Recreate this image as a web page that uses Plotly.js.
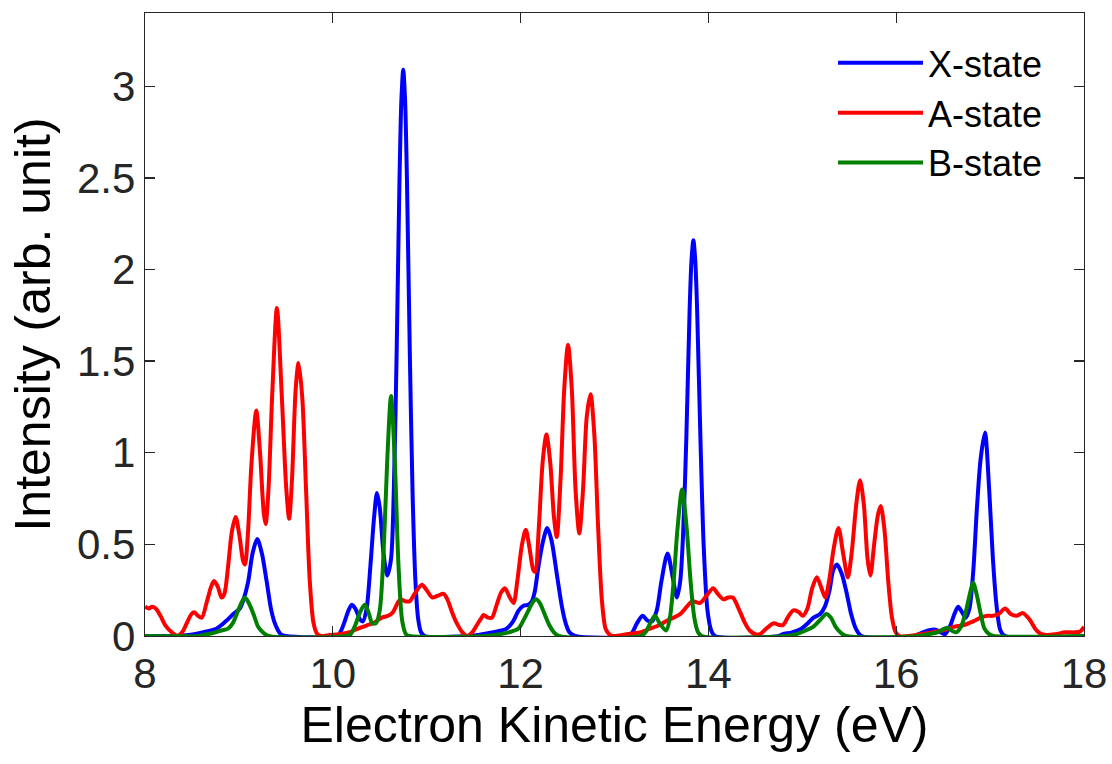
<!DOCTYPE html>
<html>
<head>
<meta charset="utf-8">
<script src="https://cdn.plot.ly/plotly-3.0.1.min.js"></script>
<style>
  html, body { margin: 0; padding: 0; background: #fff; }
  #chart { width: 1112px; height: 764px; }
</style>
</head>
<body>
<div id="chart"></div>
<script>
// Photoelectron spectra of the three ionic states vs. electron kinetic energy

// X-state
const xStateE = [8.00, 8.30, 8.46, 8.61, 8.76, 8.86, 8.94, 9.01, 9.05, 9.10, 9.145, 9.195, 9.245, 9.295, 9.345, 9.39, 9.445, 9.50,
  10.05, 10.08, 10.12, 10.16, 10.20, 10.24, 10.29, 10.32, 10.36, 10.40, 10.44, 10.47, 10.50, 10.54, 10.58, 10.62, 10.65, 10.68, 10.71, 10.73, 10.75, 10.77, 10.79, 10.82, 10.85, 10.88, 10.91, 10.94, 10.98,
  11.45, 11.55, 11.65, 11.75, 11.85, 11.92, 11.98, 12.03, 12.08, 12.12, 12.15, 12.19, 12.24, 12.285, 12.33, 12.385, 12.44, 12.48, 12.52, 12.58,
  13.15, 13.19, 13.24, 13.30, 13.35, 13.40, 13.45, 13.50, 13.565, 13.62, 13.665, 13.70, 13.73, 13.765, 13.80, 13.82, 13.84, 13.86, 13.88, 13.915, 13.95, 13.99, 14.03, 14.07,
  14.75, 14.79, 14.89, 14.99, 15.06, 15.12, 15.19, 15.24, 15.29, 15.33, 15.37, 15.42, 15.47, 15.52, 15.57, 15.63,
  16.20, 16.24, 16.34, 16.42, 16.49, 16.52, 16.57, 16.62, 16.66, 16.70, 16.74, 16.78, 16.82, 16.86, 16.90, 16.945, 16.99, 17.03, 17.07, 17.11, 17.16, 18.00];
const xStateI = [0, 0, 0.005, 0.02, 0.04, 0.08, 0.12, 0.15, 0.20, 0.30, 0.45, 0.53, 0.45, 0.30, 0.14, 0.06, 0.01, 0,
  0, 0.02, 0.07, 0.13, 0.17, 0.15, 0.09, 0.08, 0.15, 0.38, 0.65, 0.78, 0.70, 0.45, 0.33, 0.42, 0.80, 1.55, 2.48, 2.92, 3.09, 2.92, 2.48, 1.55, 0.77, 0.30, 0.09, 0.02, 0,
  0, 0.005, 0.015, 0.025, 0.04, 0.08, 0.14, 0.165, 0.17, 0.19, 0.24, 0.38, 0.52, 0.59, 0.52, 0.34, 0.16, 0.07, 0.02, 0,
  0, 0.02, 0.07, 0.11, 0.085, 0.08, 0.14, 0.30, 0.45, 0.32, 0.21, 0.30, 0.55, 1.08, 1.78, 2.05, 2.16, 2.05, 1.78, 1.08, 0.49, 0.14, 0.03, 0,
  0, 0.01, 0.02, 0.04, 0.07, 0.10, 0.12, 0.16, 0.25, 0.36, 0.39, 0.34, 0.24, 0.12, 0.04, 0,
  0, 0.01, 0.03, 0.035, 0.015, 0.01, 0.05, 0.12, 0.16, 0.13, 0.10, 0.15, 0.35, 0.70, 0.97, 1.11, 0.80, 0.42, 0.16, 0.03, 0, 0];

// A-state
const aStateE = [8.00, 8.04, 8.075, 8.115, 8.165, 8.215, 8.285, 8.345, 8.395, 8.445, 8.495, 8.525, 8.565, 8.605, 8.655, 8.705, 8.735, 8.775, 8.815, 8.845, 8.885, 8.925, 8.965, 9.005, 9.045, 9.065, 9.095, 9.135, 9.185, 9.225, 9.265, 9.285, 9.315, 9.355, 9.405, 9.455, 9.505, 9.535, 9.565, 9.605, 9.635, 9.675, 9.715, 9.755, 9.795, 9.835, 9.875,
  9.97, 10.07, 10.17, 10.27, 10.37, 10.43, 10.52, 10.59, 10.64, 10.69, 10.72, 10.77, 10.82, 10.87, 10.95, 11.00, 11.06, 11.12, 11.18, 11.22, 11.27, 11.32, 11.38, 11.43,
  11.485, 11.535, 11.585, 11.605, 11.655, 11.695, 11.745, 11.795, 11.835, 11.885, 11.925, 11.965, 12.015, 12.055, 12.095, 12.135, 12.155, 12.195, 12.235, 12.275, 12.315, 12.355, 12.385, 12.425, 12.465, 12.505, 12.545, 12.585, 12.625, 12.665, 12.705, 12.745, 12.785, 12.825, 12.865, 12.905, 12.945, 12.985,
  13.13, 13.27, 13.38, 13.48, 13.58, 13.63, 13.70, 13.77, 13.83, 13.91, 13.98, 14.05, 14.10, 14.16, 14.21, 14.26, 14.33, 14.39, 14.44, 14.50, 14.55,
  14.615, 14.695, 14.755, 14.795, 14.855, 14.905, 14.965, 15.005, 15.055, 15.105, 15.155, 15.205, 15.245, 15.285, 15.335, 15.385, 15.435, 15.485, 15.525, 15.575, 15.615, 15.655, 15.695, 15.725, 15.765, 15.805, 15.835, 15.875, 15.915, 15.955, 15.995, 16.035,
  16.14, 16.26, 16.39, 16.49, 16.61, 16.72, 16.82, 16.90, 16.97, 17.03, 17.09, 17.16, 17.22, 17.28, 17.35, 17.42, 17.48, 17.53, 17.60, 17.70, 17.80, 17.90, 17.96, 18.00];
const aStateI = [0.16, 0.15, 0.16, 0.15, 0.11, 0.06, 0.02, 0.0, 0.02, 0.07, 0.12, 0.13, 0.11, 0.10, 0.18, 0.27, 0.30, 0.27, 0.21, 0.23, 0.38, 0.57, 0.65, 0.55, 0.41, 0.39, 0.55, 0.95, 1.23, 1.00, 0.67, 0.61, 0.80, 1.32, 1.79, 1.33, 0.80, 0.64, 0.85, 1.35, 1.49, 1.30, 0.80, 0.30, 0.07, 0.01, 0,
  0.005, 0.01, 0.02, 0.04, 0.06, 0.07, 0.10, 0.11, 0.13, 0.18, 0.20, 0.19, 0.19, 0.23, 0.28, 0.25, 0.21, 0.22, 0.23, 0.20, 0.13, 0.07, 0.02, 0.0,
  0.02, 0.06, 0.10, 0.115, 0.10, 0.10, 0.17, 0.24, 0.26, 0.21, 0.18, 0.30, 0.50, 0.58, 0.48, 0.36, 0.35, 0.60, 0.95, 1.10, 0.95, 0.65, 0.54, 0.85, 1.35, 1.59, 1.35, 0.80, 0.56, 0.80, 1.20, 1.32, 1.10, 0.60, 0.20, 0.04, 0.01, 0,
  0.01, 0.02, 0.04, 0.06, 0.09, 0.10, 0.12, 0.16, 0.19, 0.18, 0.22, 0.26, 0.23, 0.20, 0.21, 0.21, 0.14, 0.07, 0.03, 0.01, 0.01,
  0.04, 0.07, 0.06, 0.06, 0.11, 0.14, 0.13, 0.11, 0.15, 0.26, 0.32, 0.26, 0.21, 0.30, 0.48, 0.59, 0.45, 0.32, 0.45, 0.72, 0.85, 0.72, 0.42, 0.33, 0.50, 0.66, 0.71, 0.58, 0.30, 0.10, 0.02, 0.0,
  0.0, 0.01, 0.02, 0.03, 0.05, 0.06, 0.08, 0.10, 0.11, 0.11, 0.12, 0.15, 0.12, 0.11, 0.125, 0.09, 0.04, 0.015, 0.005, 0.01, 0.02, 0.02, 0.025, 0.05];

// B-state
const bStateE = [8.00, 8.57, 8.615, 8.715, 8.815, 8.885, 8.935, 8.985, 9.035, 9.065, 9.105, 9.155, 9.205, 9.255, 9.315,
  10.14, 10.19, 10.24, 10.29, 10.34, 10.38, 10.42, 10.46, 10.50, 10.54, 10.58, 10.62, 10.66, 10.70, 10.74, 10.78, 10.82,
  11.62, 11.775, 11.875, 11.975, 12.025, 12.075, 12.125, 12.165, 12.205, 12.255, 12.305, 12.355, 12.405,
  13.28, 13.33, 13.38, 13.43, 13.48, 13.55, 13.59, 13.63, 13.67, 13.72, 13.77, 13.81, 13.85, 13.89, 13.93,
  14.835, 14.935, 15.035, 15.115, 15.195, 15.255, 15.305, 15.355, 15.405, 15.465,
  16.24, 16.34, 16.44, 16.54, 16.59, 16.64, 16.69, 16.74, 16.78, 16.82, 16.86, 16.90, 16.94, 16.99, 17.04, 18.00];
const bStateI = [0, 0, 0.005, 0.015, 0.03, 0.04, 0.07, 0.13, 0.19, 0.21, 0.18, 0.12, 0.05, 0.02, 0,
  0, 0.01, 0.06, 0.13, 0.17, 0.13, 0.07, 0.07, 0.14, 0.45, 0.96, 1.31, 0.96, 0.38, 0.08, 0.01, 0,
  0, 0.01, 0.02, 0.04, 0.08, 0.13, 0.18, 0.20, 0.18, 0.12, 0.06, 0.02, 0,
  0, 0.02, 0.07, 0.11, 0.07, 0.03, 0.10, 0.30, 0.58, 0.80, 0.58, 0.30, 0.10, 0.02, 0,
  0, 0.01, 0.03, 0.05, 0.09, 0.12, 0.10, 0.05, 0.02, 0,
  0, 0.01, 0.02, 0.045, 0.03, 0.02, 0.05, 0.13, 0.22, 0.29, 0.22, 0.12, 0.04, 0.01, 0, 0];

const seriesNames = ['X-state', 'A-state', 'B-state'];
const seriesColors = ['#0000ff', '#ff0000', '#008000'];

const xTicks = [8, 10, 12, 14, 16, 18];
const yTicks = [0, 0.5, 1, 1.5, 2, 2.5, 3];
const yTickText = ['0', '0.5', '1', '1.5', '2', '2.5', '3'];

const xTitle = 'Electron Kinetic Energy (eV)';
const yTitle = 'Intensity (arb. unit)';

const FONT = 'Liberation Sans, Arial, Helvetica, sans-serif';
const INK = '#262626';

function trace(x, y, i) {
  return {
    x: x, y: y, name: seriesNames[i], type: 'scatter', mode: 'lines',
    line: { color: seriesColors[i], width: 4, shape: 'spline', smoothing: 0.8 },
    hoverinfo: 'skip'
  };
}

const data = [
  trace(xStateE, xStateI, 0),
  trace(aStateE, aStateI, 1),
  trace(bStateE, bStateI, 2)
];

const axisCommon = {
  showline: true, linecolor: INK, linewidth: 1.3, mirror: 'ticks',
  ticks: 'inside', ticklen: 10, tickwidth: 1.3, tickcolor: INK,
  showgrid: false, zeroline: false,
  tickfont: { family: FONT, size: 42, color: INK }
};

const layout = {
  width: 1112, height: 764,
  margin: { l: 145, r: 28, t: 13, b: 128 },
  paper_bgcolor: '#ffffff', plot_bgcolor: '#ffffff',
  font: { family: FONT, color: '#000' },
  xaxis: Object.assign({}, axisCommon, {
    range: [8, 18], tickvals: xTicks, ticktext: xTicks.map(String),
    title: { text: xTitle, font: { family: FONT, size: 50, color: '#000' }, standoff: 0 }
  }),
  yaxis: Object.assign({}, axisCommon, {
    range: [0, 3.4], tickvals: yTicks, ticktext: yTickText,
    title: { text: yTitle, font: { family: FONT, size: 50, color: '#000' }, standoff: 10 }
  }),
  legend: {
    x: 0.7327, y: 0.968, xanchor: 'left', yanchor: 'top',
    bgcolor: 'rgba(0,0,0,0)', borderwidth: 0,
    font: { family: FONT, size: 36, color: '#000' },
    itemwidth: 85, tracegroupgap: 0
  },
  showlegend: true
};

Plotly.newPlot('chart', data, layout, { displayModeBar: false, staticPlot: true });
</script>
</body>
</html>
